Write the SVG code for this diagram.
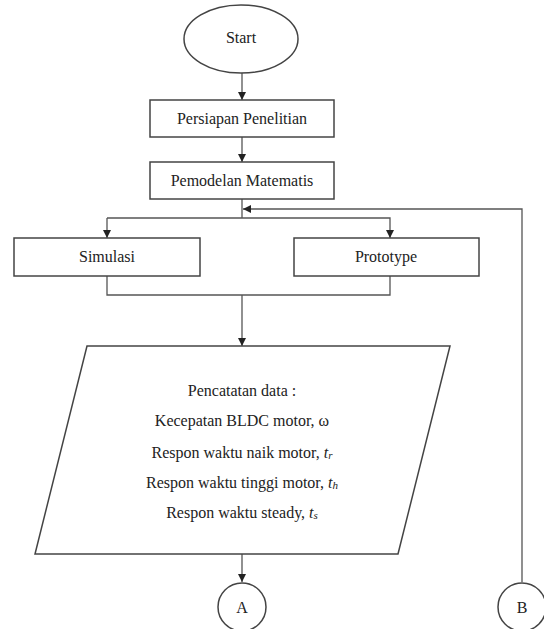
<svg xmlns="http://www.w3.org/2000/svg" width="544" height="629" viewBox="0 0 544 629">
<defs>
<style>
.s{fill:#fff;stroke:#444;stroke-width:1.5}
.c{fill:none;stroke:#555;stroke-width:1.3}
.t{font-family:"Liberation Serif","Times New Roman","DejaVu Serif",serif;font-size:16px;fill:#222;text-anchor:middle;dominant-baseline:central}
</style>
<marker id="ah" viewBox="0 0 10 10" refX="10" refY="5" markerWidth="8" markerHeight="8" markerUnits="userSpaceOnUse" orient="auto">
<path d="M0,0 L10,5 L0,10 Z" fill="#222"/>
</marker>
</defs>
<rect width="544" height="629" fill="#fff"/>
<g id="connectors">
<line class="c" x1="242" y1="73" x2="242" y2="100" marker-end="url(#ah)"/>
<line class="c" x1="242" y1="137" x2="242" y2="162" marker-end="url(#ah)"/>
<polyline class="c" points="242,199 242,218"/>
<polyline class="c" points="107,218 390,218 390,238" marker-end="url(#ah)"/>
<line class="c" x1="107" y1="218" x2="107" y2="238" marker-end="url(#ah)"/>
<polyline class="c" points="107,276 107,295 390,295 390,276"/>
<line class="c" x1="242" y1="295" x2="242" y2="346" marker-end="url(#ah)"/>
<line class="c" x1="242" y1="554" x2="242" y2="582" marker-end="url(#ah)"/>
<polyline class="c" points="522,582 522,209 243,209" stroke="#777" marker-end="url(#ah)"/>
</g>
<g id="start"><ellipse class="s" cx="241" cy="39" rx="57" ry="34"/><text class="t" x="241" y="37">Start</text></g>
<g id="persiapan"><rect class="s" x="150" y="100" width="184" height="37"/><text class="t" x="242" y="118">Persiapan Penelitian</text></g>
<g id="pemodelan"><rect class="s" x="150" y="162" width="184" height="37"/><text class="t" x="242" y="180">Pemodelan Matematis</text></g>
<g id="simulasi"><rect class="s" x="14" y="238" width="186" height="38"/><text class="t" x="107" y="256">Simulasi</text></g>
<g id="prototype"><rect class="s" x="294" y="238" width="185" height="38"/><text class="t" x="386" y="256">Prototype</text></g>
<g id="pencatatan">
<polygon class="s" points="87,346 450,346 398,554 35,554"/>
<text class="t" x="242" y="390">Pencatatan data :</text>
<text class="t" x="242" y="420">Kecepatan BLDC motor, ω</text>
<text class="t" x="242" y="452">Respon waktu naik motor, <tspan font-style="italic">t</tspan><tspan font-style="italic" font-size="11" dy="3">r</tspan></text>
<text class="t" x="242" y="482">Respon waktu tinggi motor, <tspan font-style="italic">t</tspan><tspan font-style="italic" font-size="11" dy="3">h</tspan></text>
<text class="t" x="242" y="512">Respon waktu steady, <tspan font-style="italic">t</tspan><tspan font-style="italic" font-size="11" dy="3">s</tspan></text>
</g>
<g id="A"><circle class="s" cx="242" cy="607" r="24"/><text class="t" x="242" y="607" font-size="15">A</text></g>
<g id="B"><circle class="s" cx="522" cy="607" r="24"/><text class="t" x="522" y="607" font-size="15">B</text></g>
</svg>
